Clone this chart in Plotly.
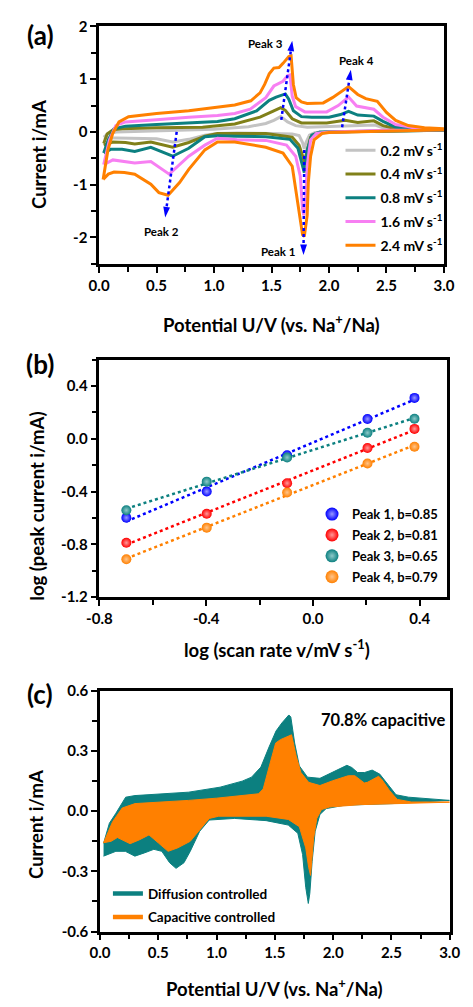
import numpy as np
import plotly.graph_objects as go

W, H = 473, 1007
FONT = "Lato"

# ---------------- Panel (a): CV curves at different scan rates ----------------
rate_labels = ["0.2 mV s<sup>-1</sup>", "0.4 mV s<sup>-1</sup>", "0.8 mV s<sup>-1</sup>",
               "1.6 mV s<sup>-1</sup>", "2.4 mV s<sup>-1</sup>"]
rate_colors = ["#c3c3c3", "#808019", "#0c8080", "#f77ff2", "#ff8000"]

E_ox_02 = [0.04, 0.08, 0.15, 0.5, 1.0, 1.3, 1.45, 1.52, 1.58, 1.64, 1.71, 1.81, 2.0, 2.2, 2.4, 2.47, 2.58, 2.75, 3.0]
I_ox_02 = [-0.10, -0.03, 0.0, 0.02, 0.05, 0.1, 0.16, 0.22, 0.29, 0.19, 0.12, 0.09, 0.1, 0.12, 0.13, 0.08, 0.05, 0.04, 0.03]
E_red_02 = [3.0, 2.5, 2.0, 1.88, 1.83, 1.80, 1.785, 1.77, 1.74, 1.68, 1.5, 1.2, 1.03, 0.92, 0.78, 0.64, 0.5, 0.3, 0.15, 0.04]
I_red_02 = [0.03, 0.02, 0.0, -0.01, -0.06, -0.2, -0.32, -0.2, -0.07, -0.04, -0.03, -0.02, -0.03, -0.06, -0.14, -0.19, -0.13, -0.12, -0.11, -0.11]

E_ox_04 = [0.04, 0.07, 0.12, 0.2, 0.5, 0.9, 1.18, 1.40, 1.51, 1.58, 1.62, 1.68, 1.76, 1.98, 2.14, 2.25, 2.39, 2.47, 2.58, 2.75, 3.0]
I_ox_04 = [-0.22, -0.04, 0.04, 0.06, 0.08, 0.09, 0.15, 0.28, 0.39, 0.46, 0.41, 0.25, 0.17, 0.17, 0.22, 0.18, 0.21, 0.12, 0.06, 0.04, 0.03]
E_red_04 = [3.0, 2.5, 2.0, 1.9, 1.84, 1.81, 1.785, 1.77, 1.74, 1.68, 1.45, 1.2, 1.03, 0.92, 0.78, 0.64, 0.45, 0.31, 0.23, 0.12, 0.04]
I_red_04 = [0.03, 0.02, 0.0, -0.02, -0.1, -0.35, -0.57, -0.45, -0.25, -0.1, -0.03, -0.03, -0.03, -0.08, -0.2, -0.29, -0.19, -0.23, -0.2, -0.19, -0.25]

E_ox_08 = [0.04, 0.08, 0.13, 0.23, 0.5, 0.78, 1.03, 1.18, 1.37, 1.48, 1.54, 1.62, 1.65, 1.69, 1.76, 1.85, 2.0, 2.10, 2.17, 2.25, 2.39, 2.47, 2.58, 2.75, 3.0]
I_ox_08 = [-0.40, -0.15, 0.06, 0.11, 0.14, 0.17, 0.2, 0.25, 0.40, 0.60, 0.66, 0.72, 0.62, 0.40, 0.29, 0.28, 0.28, 0.33, 0.39, 0.32, 0.30, 0.20, 0.09, 0.06, 0.03]
E_red_08 = [3.0, 2.5, 2.0, 1.92, 1.85, 1.81, 1.785, 1.77, 1.76, 1.73, 1.66, 1.45, 1.2, 1.03, 0.92, 0.78, 0.64, 0.45, 0.31, 0.2, 0.1, 0.04]
I_red_08 = [0.03, 0.02, 0.01, 0.0, -0.06, -0.35, -0.77, -0.65, -0.53, -0.31, -0.14, -0.09, -0.08, -0.07, -0.09, -0.31, -0.46, -0.29, -0.37, -0.33, -0.33, -0.40]

E_ox_16 = [0.04, 0.09, 0.145, 0.23, 0.5, 0.78, 1.03, 1.18, 1.315, 1.45, 1.52, 1.60, 1.64, 1.66, 1.68, 1.71, 1.79, 1.98, 2.08, 2.17, 2.24, 2.39, 2.47, 2.58, 2.75, 3.0]
I_ox_16 = [-0.62, -0.15, 0.12, 0.19, 0.23, 0.28, 0.31, 0.35, 0.43, 0.65, 0.87, 0.96, 1.07, 1.08, 0.68, 0.48, 0.38, 0.38, 0.50, 0.66, 0.49, 0.43, 0.28, 0.14, 0.08, 0.05]
E_red_16 = [3.0, 2.5, 2.0, 1.89, 1.84, 1.81, 1.795, 1.78, 1.77, 1.75, 1.71, 1.63, 1.45, 1.2, 1.03, 0.92, 0.78, 0.61, 0.45, 0.31, 0.12, 0.04]
I_red_16 = [0.04, 0.03, 0.0, -0.03, -0.15, -0.65, -1.33, -1.58, -1.46, -0.84, -0.46, -0.25, -0.16, -0.15, -0.12, -0.25, -0.46, -0.80, -0.56, -0.59, -0.53, -0.62]

E_ox_24 = [0.035, 0.077, 0.118, 0.173, 0.256, 0.5, 0.78, 1.03, 1.18, 1.32, 1.40, 1.44, 1.48, 1.52, 1.565, 1.60, 1.65, 1.67, 1.69, 1.714, 1.76, 1.81, 1.95, 2.03, 2.11, 2.17, 2.25, 2.32, 2.42, 2.50, 2.58, 2.69, 2.83, 3.0]
I_ox_24 = [-0.9, -0.34, -0.03, 0.19, 0.29, 0.35, 0.40, 0.46, 0.51, 0.59, 0.74, 0.9, 1.1, 1.21, 1.22, 1.3, 1.43, 1.44, 0.9, 0.65, 0.57, 0.54, 0.55, 0.65, 0.77, 0.86, 0.71, 0.63, 0.58, 0.37, 0.22, 0.12, 0.08, 0.06]
E_red_24 = [3.0, 2.5, 2.0, 1.94, 1.87, 1.84, 1.82, 1.81, 1.785, 1.77, 1.745, 1.71, 1.68, 1.60, 1.45, 1.18, 1.03, 0.92, 0.78, 0.70, 0.6, 0.52, 0.45, 0.31, 0.22, 0.13, 0.08, 0.035]
I_red_24 = [0.04, 0.02, -0.01, -0.03, -0.15, -0.46, -0.96, -1.58, -1.98, -1.95, -1.58, -1.08, -0.65, -0.4, -0.29, -0.19, -0.19, -0.34, -0.71, -0.96, -1.2, -1.15, -0.99, -0.8, -0.77, -0.76, -0.8, -0.9]

# peak arrows (tail -> tip) and labels
arrow_names = ["Peak 1", "Peak 2", "Peak 3", "Peak 4"]
arrow_x = [[1.785, 1.778], [0.675, 0.575], [1.585, 1.68], [2.114, 2.19]]
arrow_y = [[-0.34, -2.33], [0.0, -1.62], [0.23, 1.73], [0.09, 1.18]]
peak_label_x = [1.552, 0.54, 1.448, 2.235]
peak_label_y = [-2.27, -1.89, 1.685, 1.363]

# ---------------- Panel (b): log(i) vs log(v) ----------------
log_v = [-0.699, -0.398, -0.097, 0.204, 0.380]
logi_p1 = [-0.599, -0.40, -0.125, 0.15, 0.31]
logi_p2 = [-0.789, -0.569, -0.337, -0.07, 0.075]
logi_p3 = [-0.542, -0.325, -0.142, 0.045, 0.152]
logi_p4 = [-0.914, -0.674, -0.407, -0.187, -0.06]
b_labels = ["Peak 1, b=0.85", "Peak 2, b=0.81", "Peak 3, b=0.65", "Peak 4, b=0.79"]
b_colors = ["#0000ff", "#ff0000", "#0c8080", "#ff8000"]
b_light = ["#9a9aff", "#ff9a9a", "#8fcaca", "#ffc48a"]

# ---------------- Panel (c): capacitive contribution ----------------
E_tot_ox = [0.03, 0.08, 0.136, 0.22, 0.30, 0.76, 1.03, 1.22, 1.30, 1.38, 1.45, 1.51, 1.56, 1.62, 1.637, 1.67, 1.71, 1.78, 1.887, 1.996, 2.118, 2.16, 2.21, 2.27, 2.335, 2.40, 2.484, 2.54, 2.647, 3.0]
I_tot_ox = [-0.16, -0.06, -0.01, 0.07, 0.078, 0.095, 0.12, 0.15, 0.17, 0.22, 0.32, 0.40, 0.44, 0.48, 0.47, 0.34, 0.226, 0.17, 0.164, 0.193, 0.229, 0.218, 0.193, 0.193, 0.205, 0.185, 0.12, 0.082, 0.07, 0.054]
E_tot_red = [3.0, 2.51, 2.1, 1.94, 1.887, 1.846, 1.82, 1.80, 1.787, 1.765, 1.738, 1.697, 1.615, 1.425, 1.154, 0.937, 0.855, 0.774, 0.72, 0.652, 0.597, 0.53, 0.462, 0.38, 0.299, 0.217, 0.136, 0.03]
I_tot_red = [0.054, 0.038, 0.03, 0.013, -0.016, -0.1, -0.25, -0.41, -0.46, -0.38, -0.216, -0.11, -0.069, -0.047, -0.036, -0.044, -0.1, -0.2, -0.257, -0.285, -0.257, -0.2, -0.19, -0.208, -0.224, -0.2, -0.2, -0.224]
E_cap_ox = [0.03, 0.108, 0.19, 0.30, 0.76, 1.0, 1.36, 1.40, 1.453, 1.507, 1.548, 1.615, 1.643, 1.683, 1.724, 1.79, 1.887, 1.996, 2.13, 2.186, 2.267, 2.294, 2.39, 2.416, 2.484, 2.55, 2.67, 3.0]
I_cap_ox = [-0.157, -0.052, 0.016, 0.038, 0.054, 0.065, 0.087, 0.111, 0.226, 0.34, 0.357, 0.376, 0.381, 0.275, 0.193, 0.144, 0.128, 0.152, 0.177, 0.177, 0.141, 0.144, 0.174, 0.16, 0.103, 0.059, 0.046, 0.046]
E_cap_red = [3.0, 2.24, 1.97, 1.9, 1.86, 1.833, 1.82, 1.806, 1.79, 1.765, 1.71, 1.615, 1.425, 1.018, 0.937, 0.855, 0.774, 0.665, 0.584, 0.502, 0.42, 0.34, 0.258, 0.149, 0.095, 0.03]
I_cap_red = [0.045, 0.033, 0.021, 0.008, -0.036, -0.134, -0.232, -0.32, -0.28, -0.183, -0.077, -0.041, -0.025, -0.025, -0.036, -0.093, -0.15, -0.183, -0.2, -0.159, -0.118, -0.142, -0.162, -0.131, -0.15, -0.157]
c_labels = ["Diffusion controlled", "Capacitive controlled"]
c_colors = ["#0c8080", "#ff8000"]
cap_text = "70.8% capacitive"

# tick labels
xa_vals = [0, 0.5, 1.0, 1.5, 2.0, 2.5, 3.0]
xa_text = ["0.0", "0.5", "1.0", "1.5", "2.0", "2.5", "3.0"]
ya_vals = [-2, -1, 0, 1, 2]
ya_text = ["-2", "-1", "0", "1", "2"]
xb_vals = [-0.8, -0.4, 0.0, 0.4]
xb_text = ["-0.8", "-0.4", "0.0", "0.4"]
yb_vals = [-1.2, -0.8, -0.4, 0.0, 0.4]
yb_text = ["-1.2", "-0.8", "-0.4", "0.0", "0.4"]
yc_vals = [-0.6, -0.3, 0.0, 0.3, 0.6]
yc_text = ["-0.6", "-0.3", "0.0", "0.3", "0.6"]

fig = go.Figure()

# ---- (a)
cv_sets = [(E_ox_02, I_ox_02, E_red_02, I_red_02), (E_ox_04, I_ox_04, E_red_04, I_red_04),
           (E_ox_08, I_ox_08, E_red_08, I_red_08), (E_ox_16, I_ox_16, E_red_16, I_red_16),
           (E_ox_24, I_ox_24, E_red_24, I_red_24)]
for i, (eo, io, er, ir) in enumerate(cv_sets):
    fig.add_trace(go.Scatter(x=eo + er, y=io + ir, mode="lines", name=rate_labels[i],
                             line=dict(color=rate_colors[i], width=3), xaxis="x", yaxis="y",
                             legend="legend", legendgroup=f"a{i}"))
for i in range(4):
    fig.add_trace(go.Scatter(x=arrow_x[i], y=arrow_y[i], mode="lines+markers", showlegend=False,
                             line=dict(color="#0000ff", width=2.5, dash="dot"),
                             marker=dict(symbol="arrow", angleref="previous", size=[0, 11],
                                         opacity=[0, 1], color="#0000ff", line=dict(width=0)),
                             xaxis="x", yaxis="y"))

# ---- (b)
b_series = [logi_p1, logi_p2, logi_p3, logi_p4]
lv = np.array(log_v)
for i, s in enumerate(b_series):
    k, c0 = np.polyfit(lv, np.array(s), 1)
    xf = np.array([lv.min(), lv.max()])
    fig.add_trace(go.Scatter(x=xf, y=k * xf + c0, mode="lines", showlegend=False,
                             line=dict(color=b_colors[i], width=2.5, dash="dot"),
                             xaxis="x2", yaxis="y2"))
for i, s in enumerate(b_series):
    fig.add_trace(go.Scatter(x=log_v, y=s, mode="markers", showlegend=False,
                             marker=dict(size=10, color=b_colors[i],
                                         gradient=dict(type="radial", color=b_light[i])),
                             xaxis="x2", yaxis="y2"))
    fig.add_trace(go.Scatter(x=[None], y=[None], mode="markers", name=b_labels[i],
                             marker=dict(size=13, color=b_colors[i],
                                         gradient=dict(type="radial", color=b_light[i])),
                             xaxis="x2", yaxis="y2", legend="legend2", legendgroup=f"b{i}"))

# ---- (c)
fig.add_trace(go.Scatter(x=E_tot_ox + E_tot_red, y=I_tot_ox + I_tot_red, mode="lines",
                         fill="toself", fillcolor=c_colors[0], showlegend=False,
                         line=dict(color=c_colors[0], width=1), xaxis="x3", yaxis="y3"))
fig.add_trace(go.Scatter(x=E_cap_ox + E_cap_red, y=I_cap_ox + I_cap_red, mode="lines",
                         fill="toself", fillcolor=c_colors[1], showlegend=False,
                         line=dict(color=c_colors[1], width=1), xaxis="x3", yaxis="y3"))
for i in range(2):
    fig.add_trace(go.Scatter(x=[None], y=[None], mode="lines", name=c_labels[i],
                             line=dict(color=c_colors[i], width=4.5), xaxis="x3", yaxis="y3",
                             legend="legend3", legendgroup=f"c{i}"))


def axis_style(**kw):
    d = dict(showline=True, linecolor="black", linewidth=2.5, mirror=True,
             ticks="outside", ticklen=6, tickwidth=2, tickcolor="black",
             showgrid=False, zeroline=False, tickmode="array",
             tickfont=dict(family=FONT, size=15, color="black", weight="bold"),
             minor=dict(ticks="outside", ticklen=5, tickwidth=2, tickcolor="black", showgrid=False))
    d.update(kw)
    return d


def px_x(a, b):
    return [a / W, b / W]


def px_y(top, bottom):
    return [1 - bottom / H, 1 - top / H]


layout_axes = dict(
    xaxis=axis_style(domain=px_x(90.7, 454), range=[0, 3], tickvals=xa_vals, ticktext=xa_text,
                     anchor="y", minor_dtick=0.25, minor_tick0=0),
    yaxis=axis_style(domain=px_y(16.7, 258.5), range=[-2.5, 2], tickvals=ya_vals, ticktext=ya_text,
                     anchor="x", minor_dtick=0.5, minor_tick0=0),
    xaxis2=axis_style(domain=px_x(91, 456.7), range=[-0.8, 0.5], tickvals=xb_vals, ticktext=xb_text,
                      anchor="y2", minor_dtick=0.2, minor_tick0=0),
    yaxis2=axis_style(domain=px_y(356, 597.7), range=[-1.2, 0.6], tickvals=yb_vals, ticktext=yb_text,
                      anchor="x2", minor_dtick=0.2, minor_tick0=0),
    xaxis3=axis_style(domain=px_x(91.7, 460), range=[0, 3], tickvals=xa_vals, ticktext=xa_text,
                      anchor="y3", minor_dtick=0.25, minor_tick0=0),
    yaxis3=axis_style(domain=px_y(693.3, 938.3), range=[-0.6, 0.6], tickvals=yc_vals, ticktext=yc_text,
                      anchor="x3", minor_dtick=0.15, minor_tick0=0),
)

ann = []
def paper_text(text, x, y, size, angle=0):
    ann.append(dict(text=text, x=x / W, y=1 - y / H, xref="paper", yref="paper", showarrow=False,
                    xanchor="center", yanchor="middle", textangle=angle,
                    font=dict(family=FONT, size=size, color="black", weight="bold")))

paper_text("(a)", 29, 25, 26)
paper_text("(b)", 28, 360, 26)
paper_text("(c)", 28, 696, 26)
paper_text("Current i/mA", 28, 147, 18.5, -90)
paper_text("Potential U/V (vs. Na<sup>+</sup>/Na)", 272, 319, 18.5)
paper_text("log (peak current i/mA)", 25, 505, 18.5, -90)
paper_text("log (scan rate v/mV s<sup>-1</sup>)", 278, 650, 18.5)
paper_text("Current i/mA", 24, 829, 18.5, -90)
paper_text("Potential U/V (vs. Na<sup>+</sup>/Na)", 276, 995, 18.5)

for i in range(4):
    ann.append(dict(text=arrow_names[i], x=peak_label_x[i], y=peak_label_y[i], xref="x", yref="y",
                    showarrow=False, font=dict(family=FONT, size=11.5, color="black", weight="bold")))
ann.append(dict(text=cap_text, x=2.43, y=0.456, xref="x3", yref="y3", showarrow=False,
                font=dict(family=FONT, size=16.5, color="black", weight="bold")))

leg_common = dict(bgcolor="rgba(0,0,0,0)", borderwidth=0, xanchor="left", yanchor="top",
                  traceorder="grouped", itemclick=False, itemdoubleclick=False)
fig.update_layout(
    width=W, height=H, margin=dict(l=0, r=0, t=0, b=0),
    paper_bgcolor="white", plot_bgcolor="white",
    font=dict(family=FONT, color="black"),
    annotations=ann,
    legend=dict(x=345 / W, y=1 - 127 / H, tracegroupgap=2.5,
                font=dict(family=FONT, size=14, color="black", weight="bold"), **leg_common),
    legend2=dict(x=315 / W, y=1 - 498 / H, tracegroupgap=1,
                 font=dict(family=FONT, size=13, color="black", weight="bold"), **leg_common),
    legend3=dict(x=100 / W, y=1 - 884 / H, tracegroupgap=3,
                 font=dict(family=FONT, size=13.5, color="black", weight="bold"), **leg_common),
    **layout_axes,
)

fig.write_html("out.html")
